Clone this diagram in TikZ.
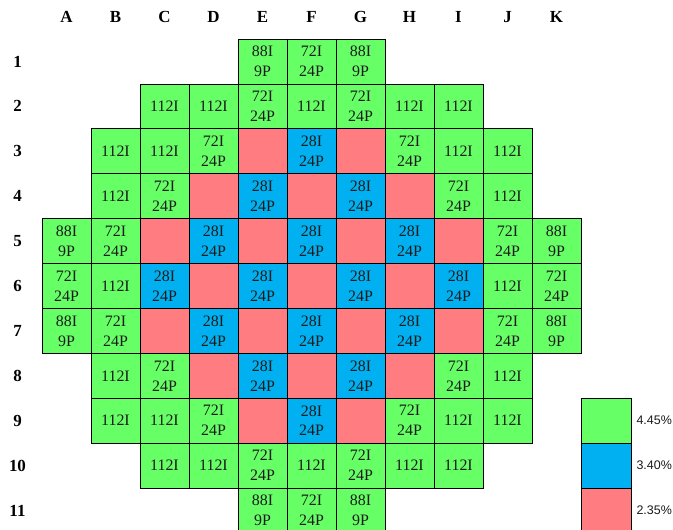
\documentclass[tikz,border=0pt]{standalone}
\usepackage{fontspec}
\setmainfont{Liberation Serif}
\newfontfamily\legendfont{Liberation Sans}
\usepackage{xcolor}
\definecolor{HighEnr}{HTML}{66FF66}
\definecolor{MidEnr}{HTML}{00B0F0}
\definecolor{LowEnr}{HTML}{FF7C80}
\definecolor{Ink}{HTML}{1A1A1A}
\begin{document}
\begin{tikzpicture}[x=49bp,y=-44.9bp,every node/.style={text=Ink},
  assy/.style={draw=black,line width=.7pt,minimum width=49bp,minimum height=44.9bp,inner sep=0pt,align=center,font=\fontsize{16}{20}\selectfont},
  hi/.style={assy,fill=HighEnr},mid/.style={assy,fill=MidEnr},lo/.style={assy,fill=LowEnr},
  head/.style={font=\fontsize{17}{20}\selectfont\bfseries,text=black},
  legtext/.style={anchor=west,inner sep=5bp,font=\legendfont\fontsize{12.5}{15}\selectfont}]
\useasboundingbox[fill=white] (-0.357,-0.369) rectangle (13.378,11.413);
% column and row headers
\foreach \c/\l in {1/A,2/B,3/C,4/D,5/E,6/F,7/G,8/H,9/I,10/J,11/K}
  \node[head] (col\l) at (\c,0) {\l};
\foreach \r in {1,...,11}
  \node[head] (row\r) at (0,\r) {\r};
% rows 1 and 11
\foreach \r in {1,11} {
  \foreach \c/\t in {5/{88I\\9P},6/{72I\\24P},7/{88I\\9P}}
    \node[hi] (a\c-\r) at (\c,\r) {\t};
}
% rows 2 and 10
\foreach \r in {2,10} {
  \foreach \c/\t in {3/{112I},4/{112I},5/{72I\\24P},6/{112I},7/{72I\\24P},8/{112I},9/{112I}}
    \node[hi] (a\c-\r) at (\c,\r) {\t};
}
% rows 3 and 9
\foreach \r in {3,9} {
  \foreach \c/\k/\t in {2/hi/{112I},3/hi/{112I},4/hi/{72I\\24P},5/lo/{},6/mid/{28I\\24P},7/lo/{},8/hi/{72I\\24P},9/hi/{112I},10/hi/{112I}}
    \node[\k] (a\c-\r) at (\c,\r) {\t};
}
% rows 4 and 8
\foreach \r in {4,8} {
  \foreach \c/\k/\t in {2/hi/{112I},3/hi/{72I\\24P},4/lo/{},5/mid/{28I\\24P},6/lo/{},7/mid/{28I\\24P},8/lo/{},9/hi/{72I\\24P},10/hi/{112I}}
    \node[\k] (a\c-\r) at (\c,\r) {\t};
}
% rows 5 and 7
\foreach \r in {5,7} {
  \foreach \c/\k/\t in {1/hi/{88I\\9P},2/hi/{72I\\24P},3/lo/{},4/mid/{28I\\24P},5/lo/{},6/mid/{28I\\24P},7/lo/{},8/mid/{28I\\24P},9/lo/{},10/hi/{72I\\24P},11/hi/{88I\\9P}}
    \node[\k] (a\c-\r) at (\c,\r) {\t};
}
% centre row
\foreach \c/\k/\t in {1/hi/{72I\\24P},2/hi/{112I},3/mid/{28I\\24P},4/lo/{},5/mid/{28I\\24P},6/lo/{},7/mid/{28I\\24P},8/lo/{},9/mid/{28I\\24P},10/hi/{112I},11/hi/{72I\\24P}}
  \node[\k] (a\c-6) at (\c,6) {\t};
% legend
\node[hi,minimum width=50bp] (keyhi) at (12.01,9) {};
\node[mid,minimum width=50bp] (keymid) at (12.01,10) {};
\node[lo,minimum width=50bp] (keylo) at (12.01,11) {};
\node[legtext] at (keyhi.east) {4.45\%};
\node[legtext] at (keymid.east) {3.40\%};
\node[legtext] at (keylo.east) {2.35\%};
\end{tikzpicture}
\end{document}
